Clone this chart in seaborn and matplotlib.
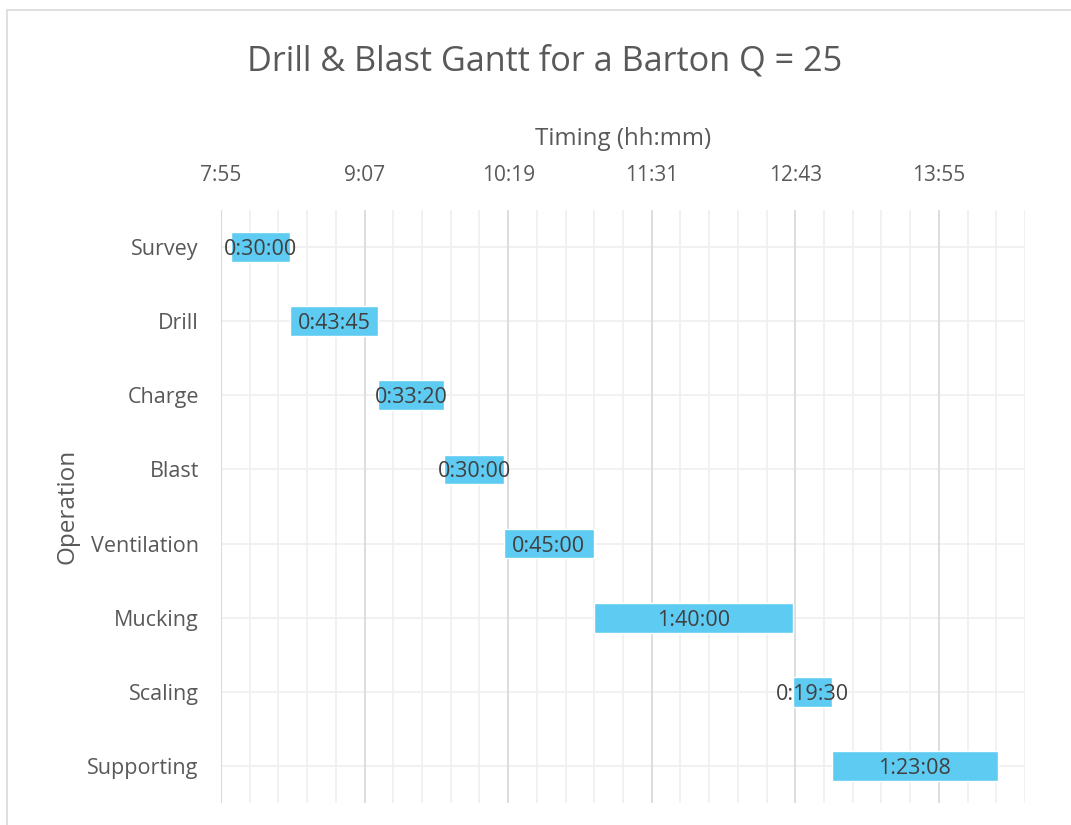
import matplotlib
matplotlib.use("Agg")
import matplotlib.pyplot as plt
from matplotlib.ticker import FixedLocator, FuncFormatter
from matplotlib.patches import Rectangle
import numpy as np
import pandas as pd
import seaborn as sns

# Operations, their start clock times and durations (h:mm:ss)
operations = ["Survey", "Drill", "Charge", "Blast", "Ventilation",
              "Mucking", "Scaling", "Supporting"]
start_times = ["8:00:00", "8:30:00", "9:13:45", "9:47:05", "10:17:05",
               "11:02:05", "12:42:05", "13:01:35"]
durations = ["0:30:00", "0:43:45", "0:33:20", "0:30:00", "0:45:00",
             "1:40:00", "0:19:30", "1:23:08"]

# Time axis (fractions of a day, as in a spreadsheet time axis)
axis_min_day = 0.33
axis_max_day = 0.61
major_unit_day = 0.05


def to_minutes(hms):
    h, m, s = (int(p) for p in hms.split(":"))
    return h * 60 + m + s / 60.0


df = pd.DataFrame({
    "Operation": operations,
    "start": [to_minutes(t) for t in start_times],
    "duration": [to_minutes(t) for t in durations],
    "label": durations,
})

sns.set_theme(style="white")
plt.rcParams["font.family"] = ["Open Sans", "DejaVu Sans"]

fig = plt.figure(figsize=(10.71, 8.25), dpi=100)
ax = fig.add_axes([221 / 1071, 1 - 803 / 825, (1025 - 221) / 1071, (803 - 210) / 825])

bar_color = "#5ECBF2"
sns.barplot(data=df, x="duration", y="Operation", orient="y", color=bar_color,
            saturation=1, width=0.4, left=df["start"].values, ax=ax, zorder=3)

xmin = axis_min_day * 1440
xmax = axis_max_day * 1440
ax.set_xlim(xmin, xmax)
ax.set_ylim(len(operations) - 0.5, -0.5)

major = np.arange(xmin, xmax + 0.01, major_unit_day * 1440)
minor = np.arange(xmin, xmax + 0.01, major_unit_day * 1440 / 5)
ax.xaxis.set_major_locator(FixedLocator(major[:-1] if major[-1] > xmax else major))
ax.xaxis.set_minor_locator(FixedLocator(minor))


def fmt_hm(v, pos=None):
    total = int(np.floor(v + 1e-6))
    return f"{total // 60}:{total % 60:02d}"


ax.xaxis.set_major_formatter(FuncFormatter(fmt_hm))
ax.xaxis.tick_top()
ax.xaxis.set_label_position("top")

# Grid lines
for x in minor:
    ax.axvline(x, color="#efefef", lw=1.2, zorder=0)
for x in major:
    if x <= xmax:
        ax.axvline(x, color="#d9d9d9", lw=1.2, zorder=1)
for i in range(len(operations)):
    ax.axhline(i, color="#efefef", lw=1.2, zorder=0)
ax.axvline(xmin, color="#d9d9d9", lw=1.5, zorder=2)

for s in ax.spines.values():
    s.set_visible(False)
ax.tick_params(axis="both", which="both", length=0)
ax.tick_params(axis="x", pad=17, labelsize=15, labelcolor="#595959")
ax.tick_params(axis="y", pad=16, labelsize=15.5, labelcolor="#595959")

ax.set_xlabel("Timing (hh:mm)", fontsize=17.4, color="#595959", labelpad=15)
ax.set_ylabel("Operation", fontsize=17.5, color="#595959", labelpad=6)

# Duration labels at bar centres
for _, row in df.iterrows():
    ax.text(row["start"] + row["duration"] / 2, operations.index(row["Operation"]),
            row["label"], ha="center", va="center_baseline", fontsize=15.5,
            color="#404040", zorder=5)

fig.text(545 / 1071, 1 - 62 / 825, "Drill & Blast Gantt for a Barton Q = 25",
         ha="center", va="center", fontsize=24.7, color="#595959")

# Chart-area border
fig.patches.append(Rectangle((7 / 1071, -0.1), 1.2, 1 - 10 / 825 + 0.1,
                             transform=fig.transFigure, fill=False,
                             edgecolor="#d9d9d9", lw=1.2))

fig.savefig("out.png", dpi=100)
